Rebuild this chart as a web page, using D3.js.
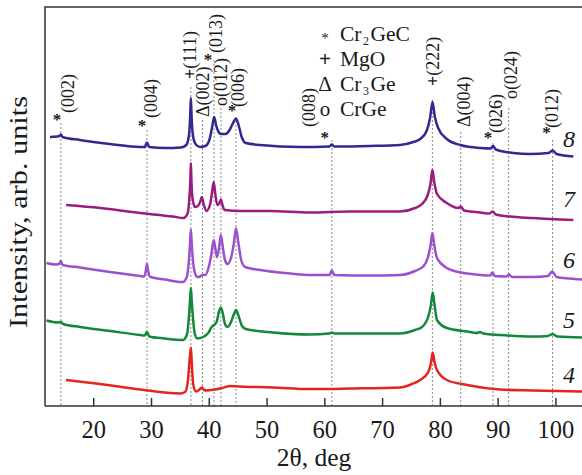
<!DOCTYPE html>
<html>
<head>
<meta charset="utf-8">
<script src="https://cdn.jsdelivr.net/npm/d3@7"></script>
<style>
body { margin: 0; background: #fff; }
text { font-family: "Liberation Serif", "Times New Roman", serif; fill: #1a1a1a; }
</style>
</head>
<body>
<script>
// 2theta (deg), intensity (arb. units)
var curve8 = [[12.52,269],[13.7,269.5],[14.15,270],[14.4,271.5],[14.7,269],[17.7,266],[22.9,262],[28.1,259],[28.9,259],[29.3,263.5],[29.7,259],[32.4,258],[35.2,258.5],[36.1,261],[36.55,270],[36.78,290],[36.9,308],[37.02,290],[37.25,271],[37.7,262],[38.5,259],[39.4,260],[40.1,266],[40.55,278],[40.93,289],[41.3,280],[41.7,274],[42.1,272],[42.9,272],[43.6,276],[44.2,283],[44.7,287.5],[45.2,280],[45.7,269],[46.4,263],[48.9,261],[55.8,259],[60.9,259.5],[61.3,261.5],[61.7,259.5],[67.9,260],[73.1,261],[75.4,264],[76.6,267],[77.7,275],[78.3,288],[78.72,304],[79.1,290],[79.7,278],[81.2,267],[83.5,261],[87.0,258],[88.8,257.5],[89.2,260],[89.7,256.5],[92.7,253],[95.6,252],[98.8,253],[99.5,255.5],[100.2,252],[103.1,249.5]];
var curve7 = [[15.3,201],[21.2,198],[28.1,193],[33.8,189.5],[35.6,188],[36.3,192],[36.6,205],[36.8,225],[36.9,243],[37.0,225],[37.2,207],[37.6,199],[38.1,200],[38.5,204],[38.8,209],[39.1,202],[39.6,195],[40.2,201],[40.55,213],[40.85,224],[41.15,211],[41.5,201],[41.85,203],[42.1,206.5],[42.4,200],[42.8,196],[45.4,195],[50.6,195],[57.5,193.5],[64.5,194.5],[73.1,194.5],[75.7,198],[76.9,202],[77.9,211],[78.4,223],[78.7,236],[79.05,223],[79.5,212],[81.2,203],[83.2,198],[83.6,199.5],[84.2,195.5],[87.0,193.5],[88.6,192.5],[89.1,194.5],[89.7,191.5],[92.1,189.5],[96.1,188],[103.1,186]];
var curve6 = [[11.9,143],[13.4,141.5],[14.1,142],[14.4,145],[14.7,141],[17.7,138.5],[22.9,134],[28.1,130],[28.8,129.5],[29.1,135],[29.3,142],[29.5,135],[29.9,129],[32.4,126.5],[35.5,124],[36.2,129],[36.55,145],[36.78,165],[36.9,176.5],[37.02,165],[37.25,146],[37.6,133],[38.0,129],[38.5,129.5],[38.9,131],[39.4,131],[39.95,138],[40.4,150],[40.85,166],[41.15,157],[41.42,149],[41.75,157],[42.08,171],[42.45,158],[42.8,146],[43.25,142],[43.85,148],[44.35,163],[44.71,177.5],[45.1,164],[45.65,145],[46.3,139],[48.9,136],[54.1,132.5],[57.5,131],[60.9,131],[61.3,135.5],[61.7,131],[67.9,130.5],[73.1,131],[75.7,135],[77.1,139.5],[77.95,149],[78.4,161],[78.7,173],[79.05,160],[79.5,148],[81.2,138],[83.2,134],[84.7,132.5],[87.0,131],[88.7,130.5],[89.1,133.5],[89.5,130],[91.5,129.5],[91.95,131.5],[92.5,129],[96.1,129],[98.7,130],[99.45,134.5],[100.2,129],[102.5,127.5],[104.6,126.5]];
var curve5 = [[11.9,85.5],[13.9,83.5],[14.4,84],[14.8,82],[17.7,79],[22.9,75],[28.1,71],[28.9,70.5],[29.3,74],[29.7,69.5],[32.4,67.5],[35.5,66],[36.2,71],[36.55,88],[36.78,108],[36.9,118],[37.02,108],[37.25,89],[37.55,73],[38.0,67.5],[39.0,69],[39.9,73],[40.5,79],[40.9,81],[41.35,84],[41.75,94],[42.08,98.5],[42.45,92],[42.8,82],[43.25,79],[43.85,84],[44.35,92],[44.71,96],[45.15,90],[45.75,80],[46.4,77],[51.1,73.5],[57.5,71.5],[60.8,72.5],[61.3,73.5],[61.7,72.5],[73.1,72.5],[75.7,76],[76.9,79],[78.0,89.5],[78.45,101],[78.76,113.5],[79.1,100],[79.5,86],[81.2,78],[84.7,74.5],[86.4,73],[86.95,74],[87.5,72.5],[90.4,71],[96.1,69.5],[98.7,70],[99.5,72],[100.3,69.5],[104.6,68.5]];
var curve4 = [[15.3,26],[21.2,22],[28.1,16.5],[35.0,12.5],[35.9,14],[36.4,26],[36.65,44],[36.9,58.5],[37.05,44],[37.3,22],[37.8,14.5],[38.5,17],[38.8,18.5],[39.2,16],[39.6,15.5],[41.0,16.5],[42.3,18],[43.7,20],[45.4,19.5],[51.1,18.5],[57.5,17],[64.5,17.5],[73.1,18.5],[75.2,22],[76.6,26],[78.0,34],[78.45,43],[78.76,53.5],[79.1,43],[79.5,36],[81.2,26],[84.7,21],[90.4,16.5],[96.1,15.5],[104.6,14.5]];

var curves = [curve8, curve7, curve6, curve5, curve4];
var curveNames = ["8", "7", "6", "5", "4"];
var curveLabelLevel = [259, 199, 138, 78, 23];
var curveColors = ["#2e2a92", "#9a1c7e", "#9c50cf", "#10893b", "#e3241f"];

// reference reflections
var refAngle = [14.4, 29.3, 36.9, 38.9, 40.9, 42.1, 44.7, 61.3, 78.7, 83.6, 89.2, 91.9, 99.5];
var refPhase = ["*", "*", "+", "\u0394", "*", "o", "*", "*", "+", "\u0394", "*", "o", "*"];
var refHkl = ["(002)", "(004)", "(111)", "(002)", "(013)", "(012)", "(006)", "(008)", "(222)", "(004)", "(026)", "(024)", "(012)"];
var refTop = [283, 276, 319, 286, 346, 298, 289, 266, 306, 274, 263, 298, 266];

var legendSymbols = ["*", "+", "\u0394", "o"];
var legendNames = ["Cr2GeC", "MgO", "Cr3Ge", "CrGe"];

var xTicks = [20, 30, 40, 50, 60, 70, 80, 90, 100];

// label placement tweaks (px)
var labelDx = [13, 10, 5, 7, 8, 6, 8, -17, 7, 9, 9, 8, 5];
var labelDy = [-10, -12, -8, -3, -7, -2, -10, -13, -14, -5, -10, -9, -12];
var starDx = [-4, -5, 0, 0, -6, 0, -4, -7, 0, 0, -5, 0, -6];
var starDy = [-6, -7, 0, 0, -3, 0, -9, -5, 0, 0, -8, 0, -10];

function drawChart () {
    var width = 582,
        height = 475;

    var svg = d3.select("body").append("svg")
        .attr("width", width)
        .attr("height", height);

    var x = d3.scaleLinear().domain([11.65, 104.6]).range([45, 582]);
    var y = d3.scaleLinear().domain([0, 399]).range([406, 7]);

    // dashed reference lines
    svg.append("g")
        .selectAll("line")
        .data(refAngle)
        .enter().append("line")
        .attr("x1", function (d) { return x(d); })
        .attr("x2", function (d) { return x(d); })
        .attr("y1", function (d, i) { return y(refTop[i]); })
        .attr("y2", y(0))
        .attr("stroke", "#8a8a8a")
        .attr("stroke-width", 1)
        .attr("stroke-dasharray", "2,2");

    var line = d3.line()
        .x(function (d) { return x(d[0]); })
        .y(function (d) { return y(d[1]); })
        .curve(d3.curveMonotoneX);

    svg.append("g")
        .selectAll("path")
        .data(curves)
        .enter().append("path")
        .attr("d", line)
        .attr("fill", "none")
        .attr("stroke", function (d, i) { return curveColors[i]; })
        .attr("stroke-width", 2.5)
        .attr("stroke-linejoin", "round");

    // frame
    svg.append("path")
        .attr("d", "M" + x.range()[0] + "," + y(0) + "V" + y.range()[1] + "H" + (x.range()[1] + 5))
        .attr("fill", "none")
        .attr("stroke", "#333")
        .attr("stroke-width", 1.5);

    var xAxis = svg.append("g")
        .attr("transform", "translate(0," + y(0) + ")")
        .call(d3.axisBottom(x).tickValues(xTicks).tickSize(-8).tickFormat(d3.format("d")));
    xAxis.select(".domain")
        .attr("stroke", "#333")
        .attr("stroke-width", 1.5)
        .attr("d", "M" + x.range()[0] + ",0H" + (x.range()[1] + 5));
    xAxis.selectAll(".tick line")
        .attr("stroke", "#333")
        .attr("stroke-width", 1.5);
    xAxis.selectAll(".tick text")
        .attr("y", 32)
        .attr("dy", 0)
        .attr("fill", "#1a1a1a")
        .style("font-family", "'Liberation Serif', serif")
        .style("font-size", "24.5px");

    svg.append("text")
        .attr("x", 314)
        .attr("y", 466)
        .attr("text-anchor", "middle")
        .style("font-size", "25.5px")
        .text("2\u03b8, deg");

    svg.append("text")
        .attr("transform", "translate(27,212) rotate(-90)")
        .attr("text-anchor", "middle")
        .attr("textLength", 232)
        .attr("lengthAdjust", "spacingAndGlyphs")
        .style("font-size", "25px")
        .text("Intensity, arb. units");

    // rotated reflection labels
    var labels = svg.append("g")
        .selectAll("text")
        .data(refAngle)
        .enter().append("text")
        .attr("transform", function (d, i) {
            return "translate(" + (x(d) + labelDx[i]) + "," + (y(refTop[i]) + labelDy[i]) + ") rotate(-90)";
        })
        .style("font-size", "18px");
    labels.append("tspan")
        .style("font-weight", function (d, i) { return refPhase[i] === "+" ? "bold" : "normal"; })
        .text(function (d, i) { return refPhase[i] === "*" ? "" : refPhase[i]; });
    labels.append("tspan")
        .text(function (d, i) { return refHkl[i]; });

    svg.append("g")
        .selectAll("text")
        .data(refAngle.filter(function (d, i) { return refPhase[i] === "*"; }))
        .enter().append("text")
        .attr("x", function (d) { var i = refAngle.indexOf(d); return x(d) + starDx[i]; })
        .attr("y", function (d) { var i = refAngle.indexOf(d); return y(refTop[i]) + starDy[i] + 8; })
        .attr("text-anchor", "middle")
        .style("font-size", "17px")
        .style("font-weight", "bold")
        .text("*");

    // legend
    var legend = svg.append("g");
    legendNames.forEach(function (name, i) {
        var by = 41 + i * 25;
        legend.append("text")
            .attr("x", 325)
            .attr("y", legendSymbols[i] === "*" ? by + 2 : by)
            .attr("text-anchor", "middle")
            .style("font-size", legendSymbols[i] === "*" ? "15px" : "21px")
            .style("font-weight", legendSymbols[i] === "+" ? "bold" : "normal")
            .text(legendSymbols[i]);
        // one text per piece so subscripts sit clear of their neighbours
        var cx = 340;
        name.split(/(\d)/).forEach(function (part) {
            if (part === "") return;
            var sub = /\d/.test(part);
            var t = legend.append("text")
                .attr("x", cx)
                .attr("y", sub ? by + 3.5 : by)
                .style("font-size", sub ? "12px" : "21.5px")
                .text(part);
            cx += t.node().getComputedTextLength() + 1.5;
        });
    });

    // curve numbers
    svg.append("g")
        .selectAll("text")
        .data(curveNames)
        .enter().append("text")
        .attr("x", 563)
        .attr("y", function (d, i) { return y(curveLabelLevel[i]); })
        .style("font-size", "24px")
        .style("font-style", "italic")
        .text(function (d) { return d; });
}

drawChart();
</script>
</body>
</html>
